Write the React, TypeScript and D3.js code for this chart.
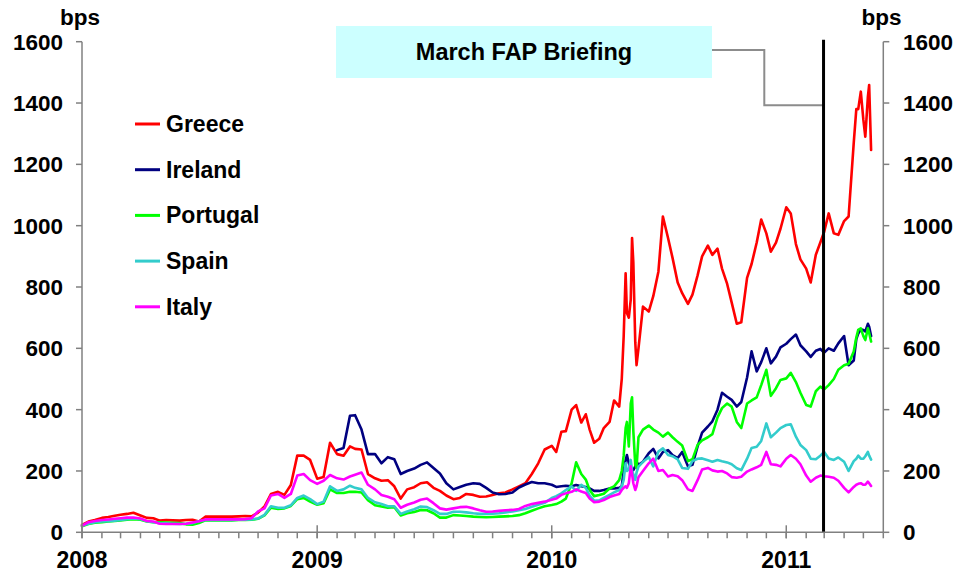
import React from "react";
import * as d3 from "d3";

// ---------- data ----------
const dates: string[] = [
  "2008-01-01","2008-01-11","2008-01-21","2008-02-01","2008-02-11","2008-02-21","2008-03-01","2008-03-11","2008-03-21",
  "2008-04-01","2008-04-11","2008-04-21","2008-05-01","2008-05-11","2008-05-21","2008-06-01","2008-06-11","2008-06-21",
  "2008-07-01","2008-07-11","2008-07-21","2008-08-01","2008-08-11","2008-08-21","2008-09-01","2008-09-11","2008-09-21",
  "2008-10-01","2008-10-11","2008-10-21","2008-11-01","2008-11-11","2008-11-21","2008-12-01","2008-12-11","2008-12-21",
  "2009-01-01","2009-01-11","2009-01-21","2009-02-01","2009-02-11","2009-02-21","2009-03-01","2009-03-11","2009-03-21",
  "2009-04-01","2009-04-11","2009-04-21","2009-05-01","2009-05-11","2009-05-21","2009-06-01","2009-06-11","2009-06-21",
  "2009-07-01","2009-07-11","2009-07-21","2009-08-01","2009-08-11","2009-08-21","2009-09-01","2009-09-11","2009-09-21",
  "2009-10-01","2009-10-11","2009-10-21","2009-11-01","2009-11-11","2009-11-21","2009-12-01","2009-12-11","2009-12-21",
  "2010-01-01","2010-01-08","2010-01-16","2010-01-23","2010-02-01","2010-02-08","2010-02-16","2010-02-23",
  "2010-03-01","2010-03-08","2010-03-16","2010-03-23",
  "2010-04-01","2010-04-08","2010-04-16","2010-04-20","2010-04-23","2010-04-26","2010-04-28",
  "2010-05-01","2010-05-04","2010-05-06","2010-05-08","2010-05-11","2010-05-13","2010-05-16","2010-05-23",
  "2010-06-01","2010-06-08","2010-06-16","2010-06-23","2010-07-01","2010-07-08","2010-07-16","2010-07-23",
  "2010-08-01","2010-08-08","2010-08-16","2010-08-23","2010-09-01","2010-09-08","2010-09-16","2010-09-23",
  "2010-10-01","2010-10-08","2010-10-16","2010-10-23","2010-11-01","2010-11-08","2010-11-16","2010-11-23",
  "2010-12-01","2010-12-08","2010-12-16","2010-12-23",
  "2011-01-01","2011-01-08","2011-01-16","2011-01-23","2011-02-01","2011-02-08","2011-02-16","2011-02-23",
  "2011-03-01","2011-03-08","2011-03-16","2011-03-23",
  "2011-04-01","2011-04-08","2011-04-16","2011-04-20","2011-04-23","2011-04-27",
  "2011-05-01","2011-05-04","2011-05-08","2011-05-10","2011-05-13",
];

const greece: (number | null)[] = [
  24,35,40,47,50,54,57,60,64,55,47,46,38,40,39,38,40,41,35,51,51,51,51,51,52,53,52,64,84,125,132,122,154,250,250,236,
  175,180,292,255,250,280,272,270,190,176,168,170,150,110,140,147,160,163,145,135,120,108,112,125,122,116,117,122,127,130,140,150,160,190,225,270,
  282,262,328,330, 400,415,358,385, 335,292,305,340,
  360,430,410,500,640,845,715,
  700,760,960,880,620,545,600,736,
  720,770,850,1030, 960,895,815,780, 745,775,838,900, 935,905,925,860,
  810,750,680,685, 830,875,945,1020, 975,915,945,990,
  1060,1040,940,890, 860,815,905,945, 980,1040,975,970,
  1015,1030,1270,1380,1380,1437,
  1345,1290,1420,1459,1247,
];

const ireland: (number | null)[] = [
  null,null,null,null,null,null,null,null,null,null,null,null,null,null,null,null,null,null,
  null,null,null,null,null,null,null,null,null,null,null,null,null,null,null,null,null,null,
  null,null,null,
  268,275,380,382,335,255,255,225,245,238,190,200,208,220,228,210,192,160,140,148,155,160,158,145,130,124,125,130,146,156,164,160,160,
  155,148,150,152, 150,154,150,148, 143,135,135,138,
  143,143,145,150,200,235,252,
  225,210,205,203,215,230,220,230,
  258,272,241,262, 268,252,242,262, 215,220,280,325, 345,362,400,455,
  442,432,410,425, 505,590,525,555, 600,551,573,603,
  615,630,645,610, 590,572,592,598, 586,600,592,616,
  640,545,560,630,648,662,
  660,655,680,670,640,
];

const portugal: (number | null)[] = [
  20,27,31,33,35,37,39,41,43,41,35,33,33,32,31,30,26,25,30,39,39,39,39,39,40,40,41,44,55,80,76,78,86,108,112,100,
  90,95,140,128,128,132,132,130,105,88,84,80,82,55,62,66,73,72,62,48,48,56,55,53,51,50,49,50,51,52,53,56,62,70,78,85,
  89,92,100,110, 160,228,190,172, 138,118,122,126,
  143,150,170,200,250,340,360,
  280,420,440,330,220,210,310,335,
  348,335,325,312, 325,310,295,283, 232,238,285,300, 310,320,375,405,
  420,410,360,340, 420,430,440,480, 530,445,470,497,
  502,520,490,455, 415,410,460,475, 466,480,500,530,
  545,550,590,635,660,665,
  640,627,665,650,622,
];

const spain: (number | null)[] = [
  22,28,33,35,36,38,40,43,45,43,36,33,30,29,28,27,28,30,36,40,40,40,40,40,41,41,42,45,57,85,80,80,88,112,120,108,
  92,100,150,135,140,152,145,140,112,98,92,85,85,60,68,75,84,82,72,60,60,67,67,65,62,60,60,61,62,65,68,72,76,83,90,96,
  112,118,127,138, 150,135,155,145, 120,103,104,112,
  122,130,138,150,171,225,200,
  205,236,200,190,171,195,214,230,
  245,215,263,274, 252,248,238,210, 207,232,240,241, 235,230,236,232,
  228,222,209,203, 240,275,279,298, 355,310,325,340,
  350,352,312,285, 268,240,238,250, 262,241,236,244,
  230,200,232,240,250,240,
  240,248,262,250,237,
];

const italy: (number | null)[] = [
  21,33,37,40,42,44,46,48,48,45,37,35,28,27,27,27,28,32,36,42,42,42,42,42,42,43,46,68,78,120,125,112,125,185,190,170,
  158,168,187,176,172,182,188,195,155,140,122,116,108,80,90,97,106,110,95,78,74,78,82,83,78,72,67,68,70,72,73,76,86,92,96,100,
  106,110,122,127, 132,140,133,128, 110,98,100,105,
  115,120,125,138,145,150,145,
  160,215,190,160,138,150,180,200,
  225,240,200,203, 182,187,183,170, 140,135,170,205, 210,202,198,200,
  192,180,178,181, 198,205,212,220, 262,222,220,215,
  240,252,240,222, 185,165,178,185, 183,181,178,168,
  145,130,148,155,158,160,
  155,155,165,160,151,
];

const seriesNames = ["Greece", "Ireland", "Portugal", "Spain", "Italy"];
const seriesColors = ["#FF0000", "#000080", "#00FF00", "#33CCCC", "#FF00FF"];
const yTicks = [0, 200, 400, 600, 800, 1000, 1200, 1400, 1600];
const yearLabels = ["2008", "2009", "2010", "2011"];
const domainStart = "2008-01-01";
const domainEnd = "2011-06-01";
const briefingDate = "2011-02-28";
const briefingLabel = "March FAP Briefing";
const unitLabel = "bps";

// ---------- layout ----------
const W = 959;
const H = 576;
const PL = 82;
const PR = 883.3;
const PT = 41.7;
const PB = 532.3;
const FONT = "'Liberation Sans', Arial, Helvetica, sans-serif";
const AXIS = "#808080";

export default function App() {
  const parse = d3.timeParse("%Y-%m-%d");
  const xDates = dates.map((d) => parse(d) as Date);
  const x = d3
    .scaleTime()
    .domain([parse(domainStart) as Date, parse(domainEnd) as Date])
    .range([PL, PR]);
  const y = d3.scaleLinear().domain([0, 1600]).range([PB, PT]);

  const allSeries = [greece, ireland, portugal, spain, italy];
  const line = d3
    .line<[Date, number | null]>()
    .defined((d) => d[1] != null)
    .x((d) => x(d[0]))
    .y((d) => y(d[1] as number));

  const months = d3.timeMonth.range(
    x.domain()[0],
    d3.timeMonth.offset(x.domain()[1], 1)
  );
  const years = yearLabels.map((s) => parse(s + "-01-01") as Date);
  const bx = x(parse(briefingDate) as Date);

  return (
    <svg
      width={W}
      height={H}
      style={{ position: "absolute", left: 0, top: 0, background: "#fff" }}
      fontFamily={FONT}
      fontWeight="bold"
    >
      <rect x={0} y={0} width={W} height={H} fill="#fff" />

      {/* annotation box */}
      <rect x={336} y={26} width={376} height={52} fill="#CCFFFF" />
      <text x={524} y={60} fontSize={23.5} textAnchor="middle" fill="#000">
        {briefingLabel}
      </text>
      <path
        d={`M712,50 H764.3 V105.3 H${bx}`}
        fill="none"
        stroke="#8c8c8c"
        strokeWidth={2}
      />

      {/* series */}
      {allSeries.map((vals, i) => (
        <path
          key={seriesNames[i]}
          d={line(xDates.map((d, j) => [d, vals[j]] as [Date, number | null])) || ""}
          fill="none"
          stroke={seriesColors[i]}
          strokeWidth={2.6}
          strokeLinejoin="round"
          strokeLinecap="round"
        />
      ))}

      {/* briefing line */}
      <line x1={bx} x2={bx} y1={y(1600) - 2} y2={y(0)} stroke="#000" strokeWidth={3} />

      {/* axes */}
      <line x1={PL} x2={PL} y1={PT} y2={PB} stroke={AXIS} strokeWidth={1.5} />
      <line x1={PR} x2={PR} y1={PT} y2={PB} stroke={AXIS} strokeWidth={1.5} />
      <line x1={PL} x2={PR} y1={PB} y2={PB} stroke={AXIS} strokeWidth={1.5} />
      {yTicks.map((t) => (
        <g key={"yt" + t}>
          <line x1={PL - 6} x2={PL} y1={y(t)} y2={y(t)} stroke={AXIS} strokeWidth={1.5} />
          <line x1={PR} x2={PR + 6} y1={y(t)} y2={y(t)} stroke={AXIS} strokeWidth={1.5} />
          <text x={63} y={y(t) + 8} fontSize={22.5} textAnchor="end" fill="#000">
            {t}
          </text>
          <text x={903} y={y(t) + 8} fontSize={22.5} textAnchor="start" fill="#000">
            {t}
          </text>
        </g>
      ))}
      {months.map((m, i) => (
        <line
          key={"mt" + i}
          x1={x(m)}
          x2={x(m)}
          y1={PB}
          y2={PB + 6}
          stroke={AXIS}
          strokeWidth={1.5}
        />
      ))}
      {years.map((yr, i) => (
        <g key={"yr" + i}>
          <line x1={x(yr)} x2={x(yr)} y1={PB - 7} y2={PB + 6} stroke={AXIS} strokeWidth={1.5} />
          <text x={x(yr)} y={568} fontSize={23} textAnchor="middle" fill="#000">
            {yearLabels[i]}
          </text>
        </g>
      ))}

      {/* unit labels */}
      <text x={80} y={25} fontSize={22.5} textAnchor="middle" fill="#000">
        {unitLabel}
      </text>
      <text x={881.5} y={25} fontSize={22.5} textAnchor="middle" fill="#000">
        {unitLabel}
      </text>

      {/* legend */}
      {seriesNames.map((n, i) => {
        const ly = 124 + i * 45.7;
        return (
          <g key={"lg" + n}>
            <line x1={135} x2={160} y1={ly} y2={ly} stroke={seriesColors[i]} strokeWidth={3} />
            <text x={166} y={ly + 8} fontSize={23} fill="#000">
              {n}
            </text>
          </g>
        );
      })}
    </svg>
  );
}
